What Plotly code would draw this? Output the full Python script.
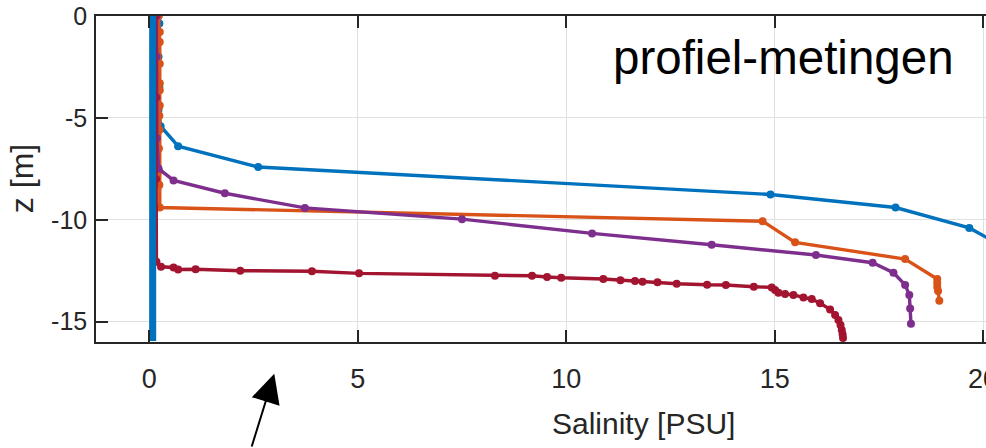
import plotly.graph_objects as go

# ---- data (salinity [PSU], depth z [m]) ----
blue_s = [0.22, 0.24, 0.22, 0.24, 0.22, 0.27, 0.69, 2.61, 14.90, 17.90, 19.67, 21.0]
blue_z = [0.0, -0.37, -2.0, -3.49, -4.6, -5.41, -6.39, -7.41, -8.76, -9.40, -10.40, -11.9]

orange_s = [0.22, 0.25, 0.25, 0.25, 0.25, 0.25, 0.25, 0.24, 0.24, 0.23, 0.23, 0.24, 0.25,
            14.71, 15.49, 18.13, 18.90, 18.90, 18.90, 18.92, 18.95]
orange_z = [0.0, -0.79, -1.28, -2.34, -3.3, -3.65, -4.39, -4.9, -5.6, -6.5, -7.6, -8.3, -9.40,
            -10.07, -11.11, -11.93, -12.91, -13.1, -13.3, -13.5, -13.97]

purple_s = [0.17, 0.17, 0.17, 0.18, 0.22, 0.58, 1.81, 3.73, 7.50, 10.62, 13.49, 15.99,
            17.35, 17.85, 18.13, 18.23, 18.25, 18.27]
purple_z = [0.0, -2.0, -4.0, -6.0, -7.49, -8.07, -8.70, -9.42, -9.97, -10.67, -11.23, -11.73,
            -12.11, -12.60, -13.20, -13.69, -14.35, -15.11]

red_s = [0.15, 0.15, 0.16, 0.17, 0.28, 0.58, 0.69, 1.11, 2.18, 3.90, 5.03, 8.29, 9.18, 9.54,
         9.88, 10.89, 11.30, 11.65, 11.83, 12.19, 12.65, 13.38, 13.83, 14.50, 14.93, 15.01,
         15.09, 15.25, 15.45, 15.69, 15.89, 16.09, 16.33, 16.45, 16.53, 16.58, 16.61, 16.63, 16.64]
red_z = [0.0, -4.0, -8.0, -12.06, -12.31, -12.34, -12.44, -12.43, -12.50, -12.53, -12.63,
         -12.75, -12.75, -12.81, -12.85, -12.91, -12.97, -13.01, -13.04, -13.07, -13.14, -13.19,
         -13.20, -13.29, -13.32, -13.45, -13.58, -13.64, -13.69, -13.81, -13.89, -14.10, -14.40,
         -14.67, -14.92, -15.16, -15.41, -15.62, -15.80]

fresh_s = [0.08, 0.08, 0.08, 0.08, 0.08, 0.08, 0.08, 0.08, 0.08]
fresh_z = [0.0, -2.0, -4.0, -6.0, -8.0, -10.0, -12.0, -14.0, -15.95]

x_ticks = [0, 5, 10, 15, 20]
x_ticktext = ["0", "5", "10", "15", "20"]
y_ticks = [0, -5, -10, -15]
y_ticktext = ["0", "-5", "-10", "-15"]

AX = "#262626"
FONT = "Liberation Sans, Arial, sans-serif"

fig = go.Figure()


def add(s, z, color, width=3.4, msize=8, mode="lines+markers"):
    fig.add_trace(go.Scatter(
        x=s, y=z, mode=mode,
        line=dict(color=color, width=width),
        marker=dict(color=color, size=msize),
        showlegend=False, cliponaxis=True,
    ))


add(blue_s, blue_z, "#0072BD")
add(orange_s, orange_z, "#D95319")
add(purple_s, purple_z, "#7E2F8E")
add(red_s, red_z, "#A2142F")
add(fresh_s, fresh_z, "#0072BD", width=7, mode="lines")

fig.update_layout(
    width=986, height=448,
    margin=dict(l=96, r=0, t=16, b=106),
    paper_bgcolor="white", plot_bgcolor="white",
    font=dict(family=FONT, color=AX),
)

fig.update_xaxes(
    range=[-1.28, 20.07], tickvals=x_ticks, ticktext=x_ticktext,
    ticks="inside", ticklen=12, tickwidth=1.5, tickcolor=AX,
    showline=True, linecolor=AX, linewidth=1.5, mirror="ticks",
    showgrid=True, gridcolor="#e0e0e0", gridwidth=1,
    zeroline=False, tickfont=dict(size=27, color=AX, family=FONT),
    ticklabeloverflow="allow", ticklabelstandoff=12, automargin=False,
)
fig.update_yaxes(
    range=[-16, 0], tickvals=y_ticks, ticktext=y_ticktext,
    ticks="inside", ticklen=12, tickwidth=1.5, tickcolor=AX,
    showline=True, linecolor=AX, linewidth=1.5, mirror=False,
    showgrid=True, gridcolor="#e0e0e0", gridwidth=1,
    zeroline=False, tickfont=dict(size=25, color=AX, family=FONT),
    ticklabelstandoff=2, automargin=False,
)

# axis titles
fig.add_annotation(text="Salinity [PSU]", xref="paper", yref="paper",
                   x=0.6157, y=-0.25, xanchor="center", yanchor="middle",
                   showarrow=False, font=dict(size=30, color=AX, family=FONT))
fig.add_annotation(text="z [m]", xref="paper", yref="paper",
                   x=-0.083, y=0.5, xanchor="center", yanchor="middle", textangle=-90,
                   showarrow=False, font=dict(size=32, color=AX, family=FONT))

# in-plot label
fig.add_annotation(text="profiel-metingen", xref="paper", yref="paper",
                   x=0.773, y=0.872, xanchor="center", yanchor="middle",
                   showarrow=False, font=dict(size=47.5, color="black", family=FONT))

# arrow
fig.add_annotation(text="", xref="paper", yref="paper",
                   x=0.2003, y=-0.0975, ax=-23, ay=76,
                   showarrow=True, arrowhead=2, arrowwidth=2, arrowsize=2.9,
                   arrowcolor="black")

fig.write_html("out.html")
